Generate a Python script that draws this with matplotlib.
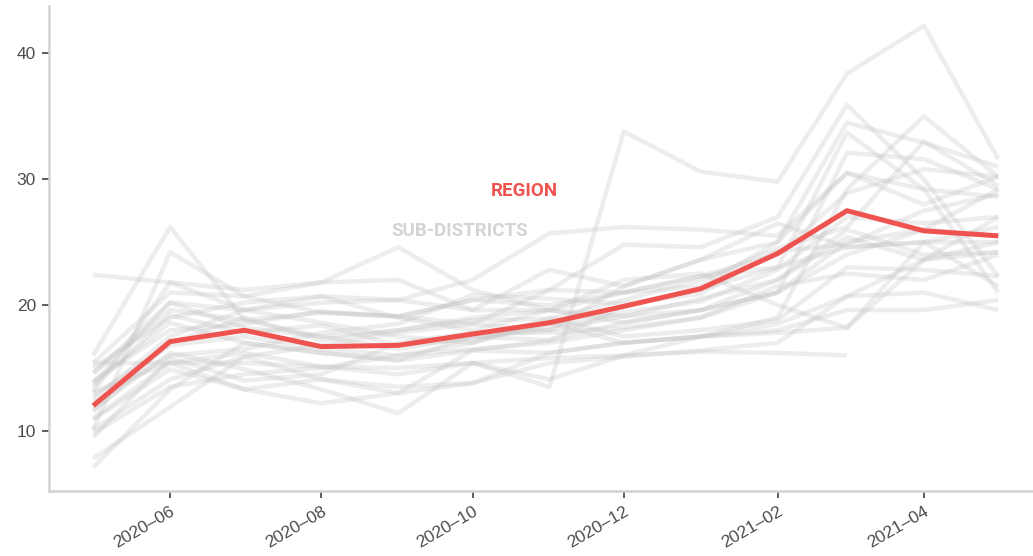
import numpy as np
import pandas as pd
import matplotlib
matplotlib.use("Agg")
import matplotlib.pyplot as plt
import matplotlib.dates as mdates

months = pd.date_range("2020-05-01", "2021-05-01", freq="MS")

region = [12.0, 17.1, 18.0, 16.7, 16.8, 17.7, 18.6, 19.9, 21.3, 24.1, 27.5, 25.9, 25.5]

nan = np.nan
sub_districts = [
    [13.1, 15.4, 16.2, 15.1, 14.5, 15.4, 13.5, 33.8, 30.6, 29.8, 38.4, 42.2, 31.6],
    [16.0, 26.2, 18.8, 17.5, 16.5, 17.5, 18.0, 19.1, 20.5, 22.0, 26.0, 24.0, 24.2],
    [22.4, 21.8, 21.2, 21.8, 24.6, 21.2, 19.6, 21.0, 22.3, 23.0, 24.6, 25.0, 26.2],
    [7.1, 13.3, 17.0, 16.2, 15.6, 17.5, 17.2, 18.6, 19.6, 21.0, 24.0, 26.0, 29.2],
    [7.8, 11.9, 15.9, 14.1, 13.0, 16.4, 16.2, 17.0, 17.5, 18.5, 20.7, 23.6, 25.0],
    [14.6, 20.2, 19.6, 20.2, 20.4, 22.0, 25.7, 26.2, 26.0, 25.5, 30.5, 29.2, 28.6],
    [10.1, 24.2, 20.7, 19.4, 19.1, 20.4, 21.2, 24.8, 24.6, 27.0, 35.9, 30.0, 22.3],
    [15.4, 21.0, 20.7, 21.8, 22.0, 19.6, 22.8, 21.5, 23.6, 25.0, 34.5, 32.9, 31.0],
    [13.8, 18.6, 17.0, 16.2, 15.6, 16.4, 17.2, 19.9, 21.3, 23.0, 33.7, 29.2, 21.0],
    [11.7, 16.2, 14.9, 13.3, 11.4, 15.4, 14.1, 16.0, 17.5, 19.0, 29.2, 35.0, 30.2],
    [15.4, 15.4, 15.4, 15.1, 15.0, 15.4, 15.8, 16.0, 16.3, 16.2, 16.0, nan, nan],
    [10.9, 14.9, 13.3, 12.2, 13.0, 13.8, 16.2, 17.0, 17.5, 17.8, 18.2, 23.6, 27.0],
    [13.1, 21.8, 19.6, 20.7, 20.4, 19.6, 19.6, 18.6, 19.6, 21.0, 32.1, 31.6, 29.2],
    [14.6, 19.6, 18.8, 19.4, 19.1, 18.5, 21.2, 21.0, 22.3, 24.0, 28.9, 30.8, 30.2],
    [12.5, 17.5, 19.6, 18.6, 17.5, 17.0, 18.6, 17.0, 17.5, 18.0, 19.6, 19.6, 20.4],
    [11.0, 15.4, 13.3, 14.1, 13.5, 13.8, 15.4, 15.9, 16.4, 17.0, 20.7, 21.0, 19.6],
    [13.8, 20.2, 18.2, 17.5, 18.0, 19.0, 19.6, 19.1, 19.6, 22.0, 25.4, 23.6, 24.2],
    [10.1, 14.1, 15.9, 16.8, 17.8, 18.5, 18.0, 21.5, 23.6, 26.5, 24.6, 25.0, 25.0],
    [14.0, 18.0, 18.5, 19.5, 19.1, 20.4, 20.0, 21.0, 21.5, 25.0, 30.5, 28.0, 30.2],
    [12.8, 16.8, 17.5, 16.5, 16.0, 17.0, 19.0, 17.5, 18.0, 18.8, 23.0, 22.8, 22.3],
    [15.0, 19.0, 20.2, 20.7, 19.0, 18.0, 19.6, 22.0, 22.5, 20.0, 18.2, 25.0, 21.5],
    [9.8, 13.5, 14.5, 15.0, 16.0, 16.5, 17.0, 18.0, 19.0, 21.5, 22.5, 22.0, 24.0],
    [13.5, 19.2, 17.8, 18.4, 16.8, 17.3, 18.3, 19.4, 20.3, 22.8, 27.0, 26.5, 27.0],
    [12.2, 16.0, 16.5, 17.8, 18.5, 20.8, 20.5, 20.1, 20.9, 24.3, 24.8, 27.5, 28.8],
    [9.5, 15.8, 14.0, 14.5, 17.0, 17.8, 17.8, 18.2, 19.0, 21.0, 25.0, 26.0, 25.5],
    [11.5, 17.0, 19.0, 17.2, 18.0, 18.8, 18.9, 20.4, 22.0, 24.5, 26.2, 33.0, 29.5],
]

plt.rcParams["font.family"] = ["Liberation Sans", "DejaVu Sans"]

fig = plt.figure(figsize=(10.33, 5.56), dpi=100)
ax = fig.add_axes([0.047, 0.117, 0.953, 0.873])

for vals in sub_districts:
    ax.plot(months, vals, color="#c4c4c4", alpha=0.3, lw=3.2, solid_capstyle="butt")

ax.plot(months, region, color="#ef5350", lw=3.6, solid_capstyle="butt", zorder=5)

ax.text(pd.Timestamp("2020-10-22"), 29.1, "REGION", color="#ef5350",
        fontsize=13.5, fontweight="bold", family="Roboto", ha="center", va="center")
ax.text(pd.Timestamp("2020-09-26"), 25.9, "SUB-DISTRICTS", color="#d4d4d4",
        fontsize=13.5, fontweight="bold", family="Roboto", ha="center", va="center")

ax.set_xlim(pd.Timestamp("2020-04-13"), pd.Timestamp("2021-05-15"))
ax.set_ylim(5.23, 43.8)
ax.set_yticks([10, 20, 30, 40])

ax.xaxis.set_major_locator(mdates.MonthLocator(bymonth=[2, 4, 6, 8, 10, 12]))
ax.xaxis.set_major_formatter(mdates.DateFormatter("%Y\u2013%m"))
plt.setp(ax.get_xticklabels(), rotation=30, ha="right", rotation_mode="anchor")

for s in ["top", "right"]:
    ax.spines[s].set_visible(False)
for s in ["left", "bottom"]:
    ax.spines[s].set_color("#d3d3d3")
    ax.spines[s].set_linewidth(1.8)

ax.tick_params(axis="both", length=5, width=1.1, color="#333333",
               labelcolor="#4d4d4d", labelsize=12.5, pad=4)

fig.savefig("out.png", dpi=100)
